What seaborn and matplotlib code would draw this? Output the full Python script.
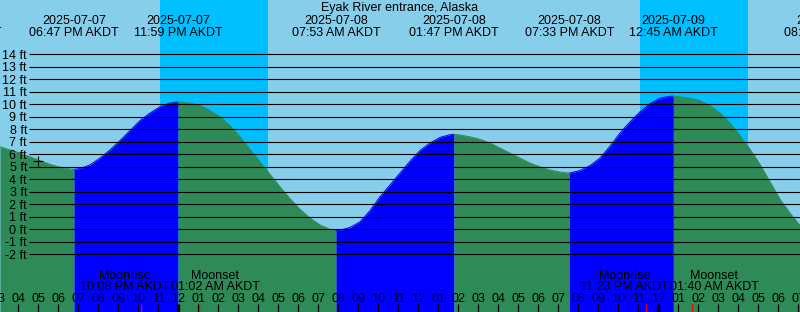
import matplotlib
matplotlib.use("Agg")
import matplotlib.pyplot as plt
import matplotlib.transforms as mtransforms
import matplotlib.dates as mdates
import numpy as np
import pandas as pd
import seaborn as sns

TITLE = "Eyak River entrance, Alaska"
TZ = "AKDT"

# half-hourly tide heights (ft): 07-07 15:05 ... 07-09 07:05
reading_start, reading_end = "2025-07-07 15:05", "2025-07-09 07:05"
reading_heights = [
    6.6, 6.35, 6.1, 5.8, 5.5, 5.2, 4.97, 4.83,
    4.86, 5.15, 5.7, 6.35, 7.1, 7.9, 8.7, 9.3, 9.8, 10.1,
    10.19, 10.1, 9.9, 9.5, 9.0, 8.3, 7.4, 6.4, 5.4, 4.4, 3.4, 2.45, 1.6, 0.9, 0.35, 0.0,
    -0.08, 0.15, 0.6, 1.5, 2.6, 3.55, 4.5, 5.45, 6.3, 6.9, 7.35, 7.57,
    7.55, 7.4, 7.2, 6.9, 6.5, 6.1, 5.7, 5.3, 5.0, 4.75, 4.58,
    4.51, 4.7, 5.1, 5.7, 6.65, 7.7, 8.6, 9.4, 10.05, 10.5, 10.64,
    10.6, 10.5, 10.3, 9.9, 9.3, 8.5, 7.5, 6.4, 5.2, 3.8, 2.4, 1.3, 0.3,
]

# high / low tides (first and last lie just outside the plotted window)
event_times = [
    "2025-07-07 12:56", "2025-07-07 18:47", "2025-07-07 23:59", "2025-07-08 07:53",
    "2025-07-08 13:47", "2025-07-08 19:33", "2025-07-09 00:45", "2025-07-09 08:30",
]
event_heights = [7.3, 4.8, 10.2, -0.1, 7.6, 4.5, 10.65, -0.8]

# night (sunset -> sunrise)
sunsets = ["2025-07-07 23:05", "2025-07-08 23:05"]
sunrises = ["2025-07-08 04:29", "2025-07-09 04:29"]

# moon events
moonrises = ["2025-07-07 22:08", "2025-07-08 23:23"]
moonsets = ["2025-07-08 01:02", "2025-07-09 01:40"]

# current-time mark
now_time = "2025-07-07 16:58"
now_height = 5.5

y_levels = list(range(-2, 15))
x_start, x_end = "2025-07-07 15:05", "2025-07-09 07:05"

DAY = "#87CEEB"
NIGHT = "#00BFFF"
RISING = "#0000FF"
FALLING = "#2E8B57"

sns.set_theme(style="white")
plt.rcParams["font.family"] = ["Liberation Sans", "DejaVu Sans"]
FS = 9

W, H = 800, 312
fig = plt.figure(figsize=(W / 100, H / 100), dpi=100)
fig.patch.set_facecolor(DAY)
ax = fig.add_axes([0, 0, 1, 1])
ax.set_axis_off()


def num(ts):
    return mdates.date2num(pd.to_datetime(ts))


x0, x1 = num(x_start), num(x_end)
y_top, y_bot = 229.3 / 12.5, (229.3 - H) / 12.5
ax.set_xlim(x0, x1)
ax.set_ylim(y_bot, y_top)


def fy(px):  # pixel row -> axes fraction
    return 1 - px / H


# night shading
for s, r in zip(sunsets, sunrises):
    ax.axvspan(num(s), num(r), color=NIGHT, lw=0, zorder=0)

# tide series: readings + extremes inside the window
readings = pd.DataFrame({
    "time": pd.date_range(reading_start, reading_end, freq="30min"),
    "height": reading_heights,
})
ev = pd.DataFrame({"time": pd.to_datetime(event_times), "height": event_heights})
ev = ev[(ev.time >= pd.Timestamp(x_start)) & (ev.time <= pd.Timestamp(x_end))]
tide = pd.concat([readings, ev]).sort_values("time").reset_index(drop=True)

tx = mdates.date2num(tide.time)
ty = tide.height.to_numpy()
turn = [0] + [i for i in range(1, len(ty) - 1)
              if (ty[i] - ty[i - 1]) * (ty[i + 1] - ty[i]) < 0] + [len(ty) - 1]
for a, b in zip(turn[:-1], turn[1:]):
    c = RISING if ty[b] > ty[a] else FALLING
    ax.fill_between(tx[a:b + 1], ty[a:b + 1], y_bot, color=c, lw=0, zorder=1)
    sns.lineplot(x=tx[a:b + 1], y=ty[a:b + 1], color=c, lw=0.7, ax=ax,
                 legend=False, zorder=1.5)

# height grid lines + labels
ax.hlines(y_levels, 29.3 / W, 1, transform=ax.get_yaxis_transform(),
          colors="black", lw=0.8, zorder=2)
lab_tr = ax.get_yaxis_transform() + mtransforms.ScaledTranslation(
    0, -4.3 / 100, fig.dpi_scale_trans)
for v in y_levels:
    ax.text(27 / W, v, f"{v} ft", transform=lab_tr, ha="right",
            va="baseline", fontsize=FS, color="black", zorder=3)

# current time mark
ax.plot([num(now_time)], [now_height], marker="+", ms=7, mew=0.8,
        color="black", zorder=3)

# title and tide event labels
ax.text(0.5, fy(11.5), TITLE, transform=ax.transAxes, ha="center",
        va="baseline", fontsize=FS, color="black")
xt = ax.get_xaxis_transform()
for t in pd.to_datetime(event_times):
    xe = mdates.date2num(t)
    ax.text(xe, fy(24), t.strftime("%Y-%m-%d"), transform=xt, ha="center",
            va="baseline", fontsize=FS, color="black", clip_on=False)
    ax.text(xe, fy(36), t.strftime("%I:%M %p ") + TZ, transform=xt,
            ha="center", va="baseline", fontsize=FS, color="black", clip_on=False)

# moon labels
for mr, ms in zip(pd.to_datetime(moonrises), pd.to_datetime(moonsets)):
    a, b = mdates.date2num(mr), mdates.date2num(ms)
    mid = (a + b) / 2
    ax.text(mid, fy(281.6), "Moonrise\n" + mr.strftime("%I:%M %p ") + TZ,
            transform=xt, ha="right", va="center", multialignment="center",
            linespacing=0.84, fontsize=FS, color="black", zorder=3)
    ax.text(mid + 0.0015, fy(281.6), "Moonset\n" + ms.strftime("%I:%M %p ") + TZ,
            transform=xt, ha="left", va="center", multialignment="center",
            linespacing=0.84, fontsize=FS, color="black", zorder=3)

# hour ticks and labels
hours = pd.date_range("2025-07-07 15:00", "2025-07-09 08:00", freq="h")
tick_h = 8 / H
for h in hours:
    xh = mdates.date2num(h)
    lw = 2.4 if h.hour == 0 else 0.9
    ax.vlines(xh, 0, tick_h, transform=xt, colors="black", lw=lw, zorder=4)
    ax.text(xh, fy(301.7), h.strftime("%I"), transform=xt, ha="center",
            va="baseline", fontsize=FS, color="black", clip_on=False, zorder=4)
for m in list(moonrises) + list(moonsets):
    ax.vlines(num(m), 0, tick_h, transform=xt, colors="red", lw=0.9, zorder=4)

fig.savefig("out.png", dpi=100, facecolor=DAY)
